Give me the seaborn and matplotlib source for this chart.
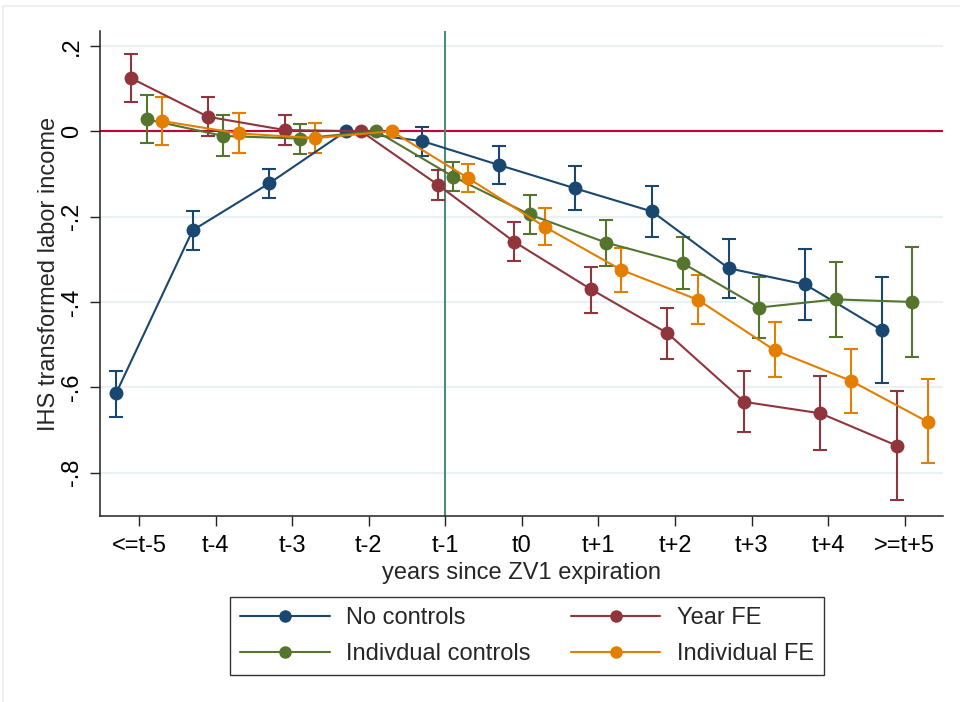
import numpy as np
import pandas as pd
import matplotlib
matplotlib.use("Agg")
import matplotlib.pyplot as plt
import seaborn as sns
from matplotlib.lines import Line2D

# ---- data ----
periods = ["<=t-5", "t-4", "t-3", "t-2", "t-1", "t0", "t+1", "t+2", "t+3", "t+4", ">=t+5"]
series = ["No controls", "Year FE", "Indivdual controls", "Individual FE"]

no_controls = [-0.614, -0.232, -0.122, 0.0, -0.023, -0.079, -0.134, -0.188, -0.321, -0.359, -0.466]
no_controls_lo = [-0.670, -0.278, -0.157, np.nan, -0.059, -0.124, -0.185, -0.248, -0.391, -0.443, -0.591]
no_controls_hi = [-0.561, -0.186, -0.088, np.nan, 0.011, -0.034, -0.081, -0.129, -0.252, -0.275, -0.341]

year_fe = [0.124, 0.034, 0.003, 0.0, -0.125, -0.259, -0.370, -0.473, -0.634, -0.661, -0.737]
year_fe_lo = [0.069, -0.011, -0.033, np.nan, -0.161, -0.304, -0.425, -0.534, -0.705, -0.747, -0.864]
year_fe_hi = [0.181, 0.081, 0.038, np.nan, -0.090, -0.213, -0.317, -0.413, -0.561, -0.573, -0.608]

ind_controls = [0.028, -0.011, -0.017, 0.0, -0.106, -0.195, -0.261, -0.309, -0.413, -0.394, -0.400]
ind_controls_lo = [-0.028, -0.057, -0.054, np.nan, -0.139, -0.240, -0.315, -0.370, -0.485, -0.481, -0.530]
ind_controls_hi = [0.085, 0.037, 0.017, np.nan, -0.073, -0.150, -0.208, -0.248, -0.341, -0.307, -0.271]

ind_fe = [0.024, -0.005, -0.016, 0.0, -0.110, -0.224, -0.325, -0.395, -0.513, -0.585, -0.681]
ind_fe_lo = [-0.032, -0.051, -0.052, np.nan, -0.143, -0.266, -0.376, -0.452, -0.577, -0.661, -0.778]
ind_fe_hi = [0.080, 0.042, 0.019, np.nan, -0.076, -0.180, -0.274, -0.337, -0.448, -0.510, -0.581]

y_ticks = [0.2, 0.0, -0.2, -0.4, -0.6, -0.8]
y_ticklabels = [".2", "0", "-.2", "-.4", "-.6", "-.8"]

# ---- styling ----
offsets = [-0.3, -0.1, 0.1, 0.3]
colors = ["#1a476f", "#90353b", "#55752f", "#e37e00"]

vals = [no_controls, year_fe, ind_controls, ind_fe]
los = [no_controls_lo, year_fe_lo, ind_controls_lo, ind_fe_lo]
his = [no_controls_hi, year_fe_hi, ind_controls_hi, ind_fe_hi]

rows = []
for s, off, v, lo, hi in zip(series, offsets, vals, los, his):
    for i, p in enumerate(periods):
        rows.append({"spec": s, "period": p, "x": i + off, "coef": v[i], "lo": lo[i], "hi": hi[i]})
df = pd.DataFrame(rows)

sns.set_theme(style="white")
plt.rcParams["font.family"] = ["Liberation Sans", "DejaVu Sans"]
FS = 17

fig = plt.figure(figsize=(9.6, 7.02), dpi=100)
ax = fig.add_axes([100 / 960, 1 - 516 / 702, (943 - 100) / 960, (516 - 31) / 702])

# grid
for yt in y_ticks:
    ax.axhline(yt, color="#eaf1f3", lw=1.6, zorder=0)
ax.axhline(0, color="#c10534", lw=1.5, zorder=1)
ax.axvline(4, color="#4f8a7b", lw=1.5, zorder=1)

for s, c in zip(series, colors):
    d = df[df["spec"] == s]
    m = d["lo"].notna()
    ax.errorbar(d["x"][m], d["coef"][m],
                yerr=[d["coef"][m] - d["lo"][m], d["hi"][m] - d["coef"][m]],
                fmt="none", ecolor=c, elinewidth=1.5, capsize=5, capthick=1.5, zorder=3)
    sns.lineplot(data=d, x="x", y="coef", color=c, marker="o", markersize=10,
                 markeredgewidth=0, linewidth=1.5, ax=ax, legend=False, zorder=4, sort=False)

ax.set_xlim(-0.51, 10.5)
ax.set_ylim(-0.9016, 0.235)
ax.set_xticks(range(len(periods)))
ax.set_xticklabels(periods, fontsize=FS)
ax.set_yticks(y_ticks)
ax.set_yticklabels(y_ticklabels, fontsize=FS, rotation=90, va="center")
ax.tick_params(axis="both", direction="out", length=7, width=1, color="#222222",
               labelcolor="black", pad=5)
ax.tick_params(axis="x", pad=7)
ax.xaxis.set_ticks_position("bottom")
ax.yaxis.set_ticks_position("left")
for sp in ["top", "right"]:
    ax.spines[sp].set_visible(False)
for sp in ["left", "bottom"]:
    ax.spines[sp].set_color("#222222")
    ax.spines[sp].set_linewidth(1.1)
ax.set_xlabel("years since ZV1 expiration", fontsize=FS, labelpad=3)
ax.set_ylabel("IHS transformed labor income", fontsize=FS, labelpad=1)
ax.grid(False)

# legend in Stata row order (matplotlib fills column-wise)
order = [0, 2, 1, 3]
handles = [Line2D([0], [0], color=colors[i], lw=1.5, marker="o", markersize=9,
                  markeredgewidth=0) for i in order]
labels = [series[i] for i in order]
leg = fig.legend(handles, labels, loc="center", bbox_to_anchor=(527 / 960, 1 - 636 / 702),
                 ncol=2, fontsize=FS, frameon=True, fancybox=False, edgecolor="black",
                 handlelength=3.8, columnspacing=1.7, handletextpad=0.7, borderpad=0.4,
                 labelspacing=0.6, borderaxespad=0)
leg.get_frame().set_linewidth(1.0)

# faint outer graph-region border
fig.add_artist(Line2D([3 / 960, 1], [1 - 6 / 702, 1 - 6 / 702], color="#e6eef1", lw=1.2,
                      transform=fig.transFigure))
fig.add_artist(Line2D([3 / 960, 3 / 960], [0, 1 - 6 / 702], color="#e6eef1", lw=1.2,
                      transform=fig.transFigure))

fig.savefig("out.png", dpi=100, facecolor="white")
